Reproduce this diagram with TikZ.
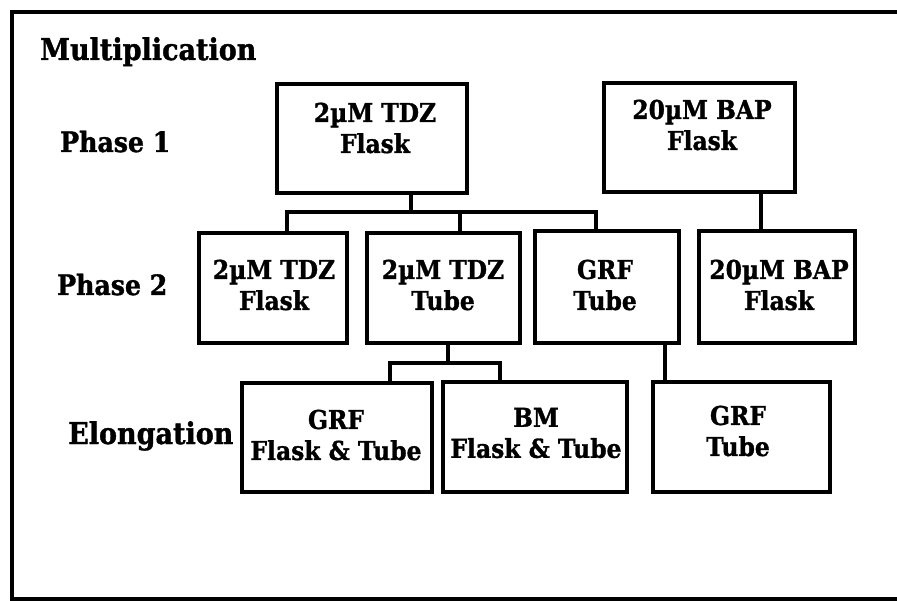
\documentclass[tikz,border=0pt]{standalone}
\usepackage{fontspec}
\setmainfont{DejaVu Serif}[FakeStretch=0.9, BoldFeatures={FakeBold=1.2}]
\begin{document}
\begin{tikzpicture}[x=1pt,y=-1pt,
  box/.style={draw, line width=3.6pt, rectangle, inner sep=0pt},
  conn/.style={draw, line width=3.4pt},
  lbl/.style={font=\fontsize{28}{31}\selectfont\bfseries, inner sep=0pt, anchor=base west},
  biglbl/.style={lbl, font=\fontsize{30}{33}\selectfont\bfseries},
  btxt/.style={font=\fontsize{26}{31}\selectfont\bfseries, align=center, inner sep=0pt}]
\useasboundingbox (0,0) rectangle (897,601);
% frame
\draw[line width=3.8pt] (899,12) -- (12,12) -- (12,599) -- (899,599);
% labels
\node[biglbl] (mult) at (40,60) {Multiplication};
\node[lbl] (ph1) at (60,152) {Phase 1};
\node[lbl] (ph2) at (57,295) {Phase 2};
\node[biglbl] (elo) at (68,444) {Elongation};
% boxes
\node[box, minimum width=190, minimum height=109] (p1a) at (372,138.5) {};
\node[box, minimum width=191, minimum height=109] (p1b) at (699.5,137.5) {};
\node[box, minimum width=148, minimum height=110] (p2a) at (273,288) {};
\node[box, minimum width=153, minimum height=110] (p2b) at (443.5,288) {};
\node[box, minimum width=144, minimum height=112] (p2c) at (607,287) {};
\node[box, minimum width=156, minimum height=112] (p2d) at (777,287) {};
\node[box, minimum width=190, minimum height=109] (e1) at (337,437.5) {};
\node[box, minimum width=184, minimum height=110] (e2) at (535,437) {};
\node[box, minimum width=177, minimum height=110] (e3) at (741.5,437) {};
% box texts
\node[btxt] (t1a) at (375,128) {2µM TDZ\\Flask};
\node[btxt] (t1b) at (702,125) {20µM BAP\\Flask};
\node[btxt] (t2a) at (274,285) {2µM TDZ\\Flask};
\node[btxt] (t2b) at (443,285) {2µM TDZ\\Tube};
\node[btxt] (t2c) at (605,285) {GRF\\Tube};
\node[btxt] (t2d) at (779,285) {20µM BAP\\Flask};
\node[btxt] (te1) at (336,435) {GRF\\Flask \& Tube};
\node[btxt] (te2) at (536,433) {BM\\Flask \& Tube};
\node[btxt] (te3) at (738,431) {GRF\\Tube};
% connectors
\coordinate (j1) at (411,212);
\coordinate (bA) at (287,212);
\coordinate (bB) at (460,212);
\coordinate (bC) at (596,212);
\draw[conn] (p1a.south -| j1) -- (j1);
\draw[conn] (p2a.north -| bA) |- (bC) -- (p2c.north -| bC);
\draw[conn] (bB) -- (p2b.north -| bB);
\coordinate (j2) at (761,212);
\draw[conn] (p1b.south -| j2) -- (p2d.north -| j2);
\coordinate (j3) at (448,363);
\coordinate (cA) at (390,363);
\coordinate (cB) at (500,363);
\draw[conn] (p2b.south -| j3) -- (j3);
\draw[conn] (e1.north -| cA) |- (cB) -- (e2.north -| cB);
\coordinate (j4) at (665,363);
\draw[conn] (p2c.south -| j4) -- (e3.north -| j4);
\end{tikzpicture}
\end{document}
